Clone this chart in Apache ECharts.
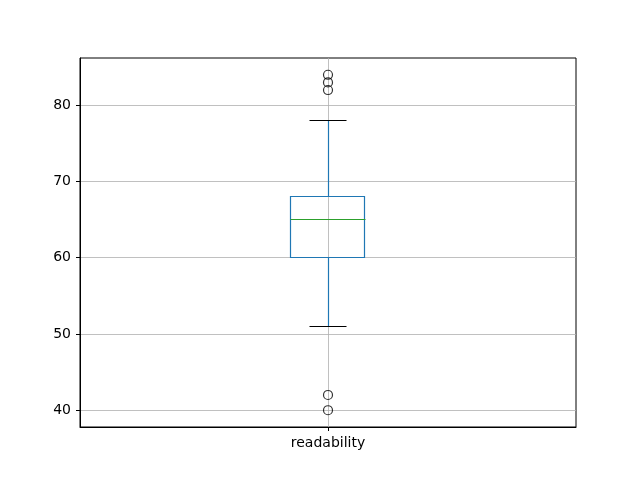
<!DOCTYPE html>
<html>
<head>
<meta charset="utf-8">
<script src="https://cdn.jsdelivr.net/npm/echarts@6/dist/echarts.min.js"></script>
<style>
  html, body { margin: 0; padding: 0; background: #fff; }
  #chart { width: 640px; height: 480px; }
</style>
</head>
<body>
<div id="chart"></div>
<script>
// box plot values
var categories = ['readability'];
var lowWhisker = [51];
var q1 = [60];
var median = [65];
var q3 = [68];
var highWhisker = [78];
var outliers = [84, 83, 82, 42, 40];
var yTicks = [40, 50, 60, 70, 80];

var boxData = [];
var outlierData = [];
for (var i = 0; i < categories.length; i++) {
  boxData.push([i + 1, lowWhisker[i], q1[i], median[i], q3[i], highWhisker[i]]);
  for (var j = 0; j < outliers.length; j++) {
    outlierData.push([i + 1, outliers[j]]);
  }
}

var chart = echarts.init(document.getElementById('chart'));
var font = 'DejaVu Sans';

// snap to pixel centre so 1px lines stay sharp
function px(v) { return Math.round(v - 0.5) + 0.5; }

chart.setOption({
  animation: false,
  grid: {
    left: 80, right: 64, top: 58, bottom: 53,
    show: true,
    borderColor: '#000',
    borderWidth: 1
  },
  xAxis: {
    type: 'value',
    min: 0.5,
    max: 1.5,
    axisLine: { show: true, lineStyle: { color: '#000', width: 1 } },
    axisTick: { show: true, length: 4, lineStyle: { color: '#000' }, customValues: [1] },
    axisLabel: {
      customValues: [1],
      color: '#000',
      fontFamily: font,
      fontSize: 14,
      margin: 9,
      formatter: function(v) { return categories[Math.round(v) - 1] || ''; }
    },
    splitLine: { show: true, lineStyle: { color: '#b0b0b0', width: 0.8 } }
  },
  yAxis: {
    type: 'value',
    min: 37.8,
    max: 86.2,
    axisLine: { show: true, lineStyle: { color: '#000', width: 1 } },
    axisTick: { show: true, length: 4, lineStyle: { color: '#000' }, customValues: yTicks },
    axisLabel: {
      customValues: yTicks,
      color: '#000',
      fontFamily: font,
      fontSize: 14,
      margin: 9
    },
    splitLine: { show: true, lineStyle: { color: '#b0b0b0', width: 0.8 } }
  },
  series: [
    {
      type: 'custom',
      data: boxData,
      renderItem: function(params, api) {
        var x = api.value(0);
        var lo = api.value(1), a = api.value(2), m = api.value(3), b = api.value(4), hi = api.value(5);
        var halfBox = 0.075, halfCap = 0.0375;
        var tl = api.coord([x - halfBox, b]);
        var br = api.coord([x + halfBox, a]);
        var blue = '#1f77b4';
        function seg(p1, p2, color) {
          return {
            type: 'line',
            shape: { x1: px(p1[0]), y1: px(p1[1]), x2: px(p2[0]), y2: px(p2[1]) },
            style: { stroke: color, lineWidth: 1.2 }
          };
        }
        return {
          type: 'group',
          children: [
            seg(api.coord([x, a]), api.coord([x, lo]), blue),
            seg(api.coord([x, b]), api.coord([x, hi]), blue),
            seg(api.coord([x - halfCap, lo]), api.coord([x + halfCap, lo]), '#000'),
            seg(api.coord([x - halfCap, hi]), api.coord([x + halfCap, hi]), '#000'),
            {
              type: 'rect',
              shape: { x: px(tl[0]), y: px(tl[1]), width: Math.round(br[0] - tl[0]), height: Math.round(br[1] - tl[1]) },
              style: { fill: 'none', stroke: blue, lineWidth: 1.2 }
            },
            seg(api.coord([x - halfBox, m]), api.coord([x + halfBox, m]), '#2ca02c')
          ]
        };
      }
    },
    {
      type: 'scatter',
      data: outlierData,
      symbol: 'circle',
      symbolSize: 9,
      itemStyle: { color: 'transparent', borderColor: '#000', borderWidth: 1.2 }
    }
  ]
});
</script>
</body>
</html>
